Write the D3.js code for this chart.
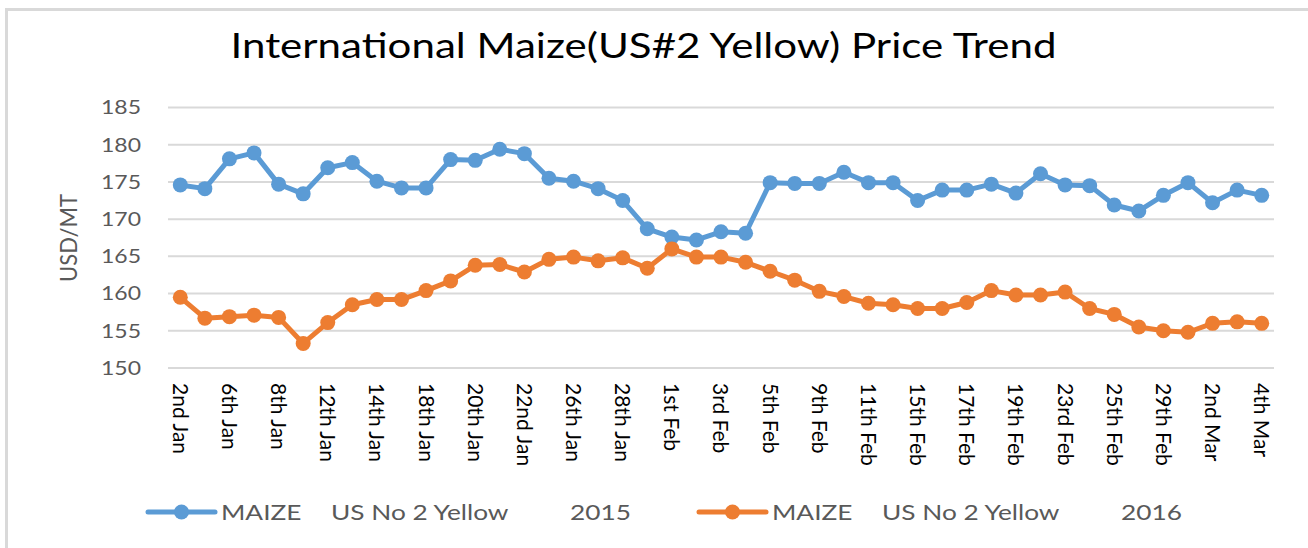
<!DOCTYPE html>
<html>
<head>
<meta charset="utf-8">
<script src="https://cdn.jsdelivr.net/npm/d3@7"></script>
<style>
  body { margin: 0; background: #fff; }
  svg text { font-family: Lato, "Open Sans", sans-serif; }
</style>
</head>
<body>
<div id="chart"></div>
<script>
// categories (trading days) - only every other one is labelled on the axis
const dates = [
  "2nd Jan", "5th Jan", "6th Jan", "7th Jan", "8th Jan",
  "11th Jan", "12th Jan", "13th Jan", "14th Jan", "15th Jan",
  "18th Jan", "19th Jan", "20th Jan", "21st Jan", "22nd Jan",
  "25th Jan", "26th Jan", "27th Jan", "28th Jan", "29th Jan",
  "1st Feb", "2nd Feb", "3rd Feb", "4th Feb", "5th Feb",
  "8th Feb", "9th Feb", "10th Feb", "11th Feb", "12th Feb",
  "15th Feb", "16th Feb", "17th Feb", "18th Feb", "19th Feb",
  "22nd Feb", "23rd Feb", "24th Feb", "25th Feb", "26th Feb",
  "29th Feb", "1st Mar", "2nd Mar", "3rd Mar", "4th Mar"
]

const price2015 = [
  174.6, 174.1, 178.1, 178.9, 174.7, 173.4, 176.9, 177.6, 175.1, 174.2,
  174.2, 178.0, 177.9, 179.4, 178.8, 175.5, 175.1, 174.1, 172.5, 168.7,
  167.6, 167.2, 168.3, 168.1, 174.9, 174.8, 174.8, 176.3, 174.9, 174.9,
  172.5, 173.9, 173.9, 174.7, 173.5, 176.1, 174.6, 174.5, 171.9, 171.1,
  173.2, 174.9, 172.2, 173.9, 173.2
]

const price2016 = [
  159.5, 156.7, 156.9, 157.1, 156.8, 153.3, 156.1, 158.5, 159.2, 159.2,
  160.4, 161.7, 163.8, 163.9, 162.9, 164.6, 164.9, 164.4, 164.8, 163.4,
  166.0, 164.9, 164.9, 164.2, 163.0, 161.8, 160.3, 159.6, 158.7, 158.5,
  158.0, 158.0, 158.8, 160.4, 159.8, 159.8, 160.2, 158.0, 157.2, 155.5,
  155.0, 154.8, 156.0, 156.2, 156.0
]

const yTicks = [150, 155, 160, 165, 170, 175, 180, 185]

const seriesLabels = [
  ["MAIZE", "US No 2 Yellow", "2015"],
  ["MAIZE", "US No 2 Yellow", "2016"]
]
const seriesColors = ["#5b9bd5", "#ed7d31"]

const chartTitle = "International Maize(US#2 Yellow) Price Trend"
const yTitle = "USD/MT"

// dimensions
const dimensions = {
  width: 1308,
  height: 548,
  margin: { top: 107.5, right: 34, bottom: 180, left: 168 }
}
dimensions.boundedWidth = dimensions.width - dimensions.margin.left - dimensions.margin.right
dimensions.boundedHeight = dimensions.height - dimensions.margin.top - dimensions.margin.bottom

const wrapper = d3.select("#chart")
  .append("svg")
    .attr("width", dimensions.width)
    .attr("height", dimensions.height)

// chart frame (only top and left edges visible in the crop)
wrapper.append("path")
  .attr("d", `M6.5,${dimensions.height} V9.5 H${dimensions.width}`)
  .attr("fill", "none")
  .attr("stroke", "#d9d9d9")
  .attr("stroke-width", 3)

const bounds = wrapper.append("g")
  .attr("transform", `translate(${dimensions.margin.left},${dimensions.margin.top})`)

// scales
const xScale = d3.scaleBand()
  .domain(dates)
  .range([0, dimensions.boundedWidth])

const xCenter = d => xScale(d) + xScale.bandwidth() / 2

const yScale = d3.scaleLinear()
  .domain([150, 185])
  .range([dimensions.boundedHeight, 0])

// gridlines
bounds.append("g")
  .selectAll("line")
  .data(yTicks)
  .join("line")
    .attr("x1", 0)
    .attr("x2", dimensions.boundedWidth)
    .attr("y1", d => yScale(d))
    .attr("y2", d => yScale(d))
    .attr("stroke", "#d9d9d9")
    .attr("stroke-width", 2)

// y axis labels (slightly widened like the original's font)
const yAxis = bounds.append("g")
  .call(d3.axisLeft(yScale).tickValues(yTicks).tickSize(0))
yAxis.select(".domain").remove()
yAxis.selectAll("text")
  .attr("fill", "#595959")
  .style("font-size", "20px")
  .style("font-family", "Lato, sans-serif")
  .attr("x", 0)
  .attr("transform", "translate(-27,0) scale(1.15,1)")

// x axis labels (every other category)
const xAxis = bounds.append("g")
  .attr("transform", `translate(0,${dimensions.boundedHeight})`)
  .call(d3.axisBottom(xScale).tickValues(dates.filter((d, i) => i % 2 === 0)).tickSize(0))
xAxis.select(".domain").remove()
xAxis.selectAll("text")
  .attr("fill", "#000")
  .style("font-size", "21px")
  .style("font-family", "Lato, sans-serif")
  .attr("text-anchor", "start")
  .attr("transform", "translate(0,15) rotate(90)")
  .attr("x", 0)
  .attr("y", 0)
  .attr("dy", "0.36em")

// lines + markers
const seriesData = [price2015, price2016]
const lineGenerator = d3.line()
  .x((d, i) => xCenter(dates[i]))
  .y(d => yScale(d))

seriesData.forEach((values, s) => {
  bounds.append("path")
    .datum(values)
    .attr("d", lineGenerator)
    .attr("fill", "none")
    .attr("stroke", seriesColors[s])
    .attr("stroke-width", 5)
    .attr("stroke-linejoin", "round")

  bounds.append("g")
    .selectAll("circle")
    .data(values)
    .join("circle")
      .attr("cx", (d, i) => xCenter(dates[i]))
      .attr("cy", d => yScale(d))
      .attr("r", 7.5)
      .attr("fill", seriesColors[s])
})

// title
wrapper.append("text")
  .attr("x", 643.5)
  .attr("y", 58)
  .attr("text-anchor", "middle")
  .attr("fill", "#000")
  .style("font-size", "35px")
  .attr("textLength", 826)
  .attr("lengthAdjust", "spacingAndGlyphs")
  .text(chartTitle)

// y axis title
wrapper.append("text")
  .attr("transform", "translate(69,238) rotate(-90)")
  .attr("text-anchor", "middle")
  .attr("dy", "0.36em")
  .attr("fill", "#595959")
  .style("font-size", "23px")
  .attr("textLength", 88)
  .attr("lengthAdjust", "spacingAndGlyphs")
  .text(yTitle)

// legend
const legend = wrapper.append("g")
  .attr("transform", "translate(148,512)")

const partOffsets = [73, 183, 422]
seriesLabels.forEach((parts, s) => {
  const item = legend.append("g")
    .attr("transform", `translate(${s * 551},0)`)
  item.append("line")
    .attr("x1", 0).attr("x2", 67)
    .attr("stroke", seriesColors[s])
    .attr("stroke-width", 5)
    .attr("stroke-linecap", "round")
  item.append("circle")
    .attr("cx", 33.5)
    .attr("r", 7.5)
    .attr("fill", seriesColors[s])
  parts.forEach((p, k) => {
    item.append("text")
      .attr("transform", `translate(${partOffsets[k]},0) scale(1.25,1)`)
      .attr("dy", "0.36em")
      .attr("fill", "#595959")
      .style("font-size", "21px")
      .text(p)
  })
})
</script>
</body>
</html>
